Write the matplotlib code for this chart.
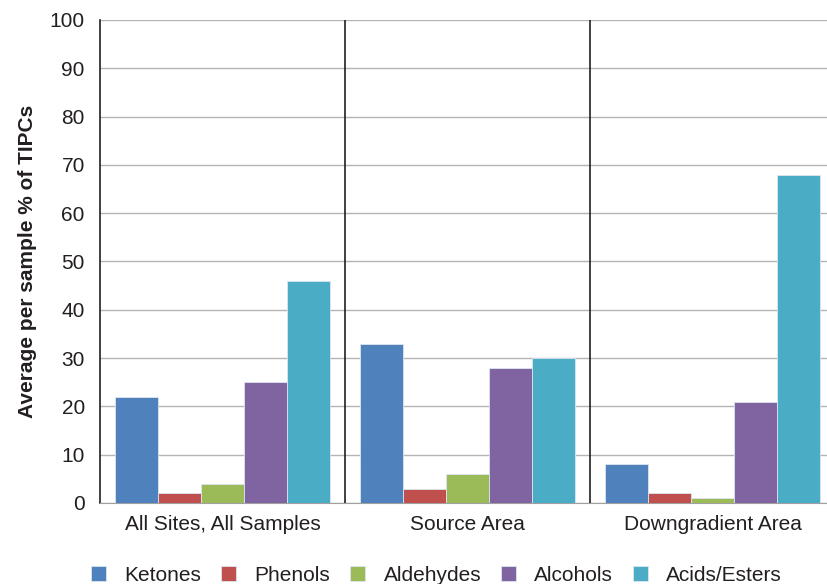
import matplotlib
matplotlib.use('Agg')
from matplotlib import pyplot as plt
import numpy as np

plt.rcParams['font.family'] = ['Liberation Sans', 'DejaVu Sans']

groups = ['All Sites, All Samples', 'Source Area', 'Downgradient Area']
series = ['Ketones', 'Phenols', 'Aldehydes', 'Alcohols', 'Acids/Esters']
ketones = [22, 33, 8]
phenols = [2, 3, 2]
aldehydes = [4, 6, 1]
alcohols = [25, 28, 21]
acids_esters = [46, 30, 68]
colors = ['#4F81BD', '#C0504D', '#9BBB59', '#8064A2', '#4BACC6']

values = [ketones, phenols, aldehydes, alcohols, acids_esters]

fig = plt.figure(figsize=(8.27, 5.84), dpi=100)
ax = fig.add_axes([0.121, 0.1387, 0.879, 0.8271])

x = np.arange(len(groups))
w = 0.175
for i, (name, vals) in enumerate(zip(series, values)):
    ax.bar(x + (i - 2) * w, vals, w, color=colors[i], label=name,
           edgecolor='#dde6f0', linewidth=0.6, zorder=3)

ax.set_xlim(-0.5, 2.467)
ax.set_ylim(0, 100)
ax.set_yticks(np.arange(0, 101, 10))
ax.set_xticks(x)
ax.set_xticklabels(groups)
ax.tick_params(axis='both', length=0, labelsize=15, colors='#231f20')
ax.tick_params(axis='x', pad=9)
ax.tick_params(axis='y', pad=11)
ax.grid(axis='y', color='#b4b4b4', linewidth=1, zorder=0)

for sep in [0.5, 1.5]:
    ax.axvline(sep, color='#231f20', linewidth=1.2, zorder=4)

for s in ['top', 'right']:
    ax.spines[s].set_visible(False)
ax.spines['left'].set_color('#231f20')
ax.spines['left'].set_linewidth(1.2)
ax.spines['bottom'].set_color('#a0a0a0')

ax.set_ylabel('Average per sample % of TIPCs', fontsize=15, fontweight='bold',
              color='#231f20', labelpad=9)

fig.legend(loc='lower center', bbox_to_anchor=(0.528, -0.033), ncol=5, frameon=False,
           fontsize=15, handlelength=0.7, handleheight=0.7, columnspacing=0.95,
           handletextpad=0.9, labelcolor='#231f20')

fig.savefig('out.png', dpi=100)
